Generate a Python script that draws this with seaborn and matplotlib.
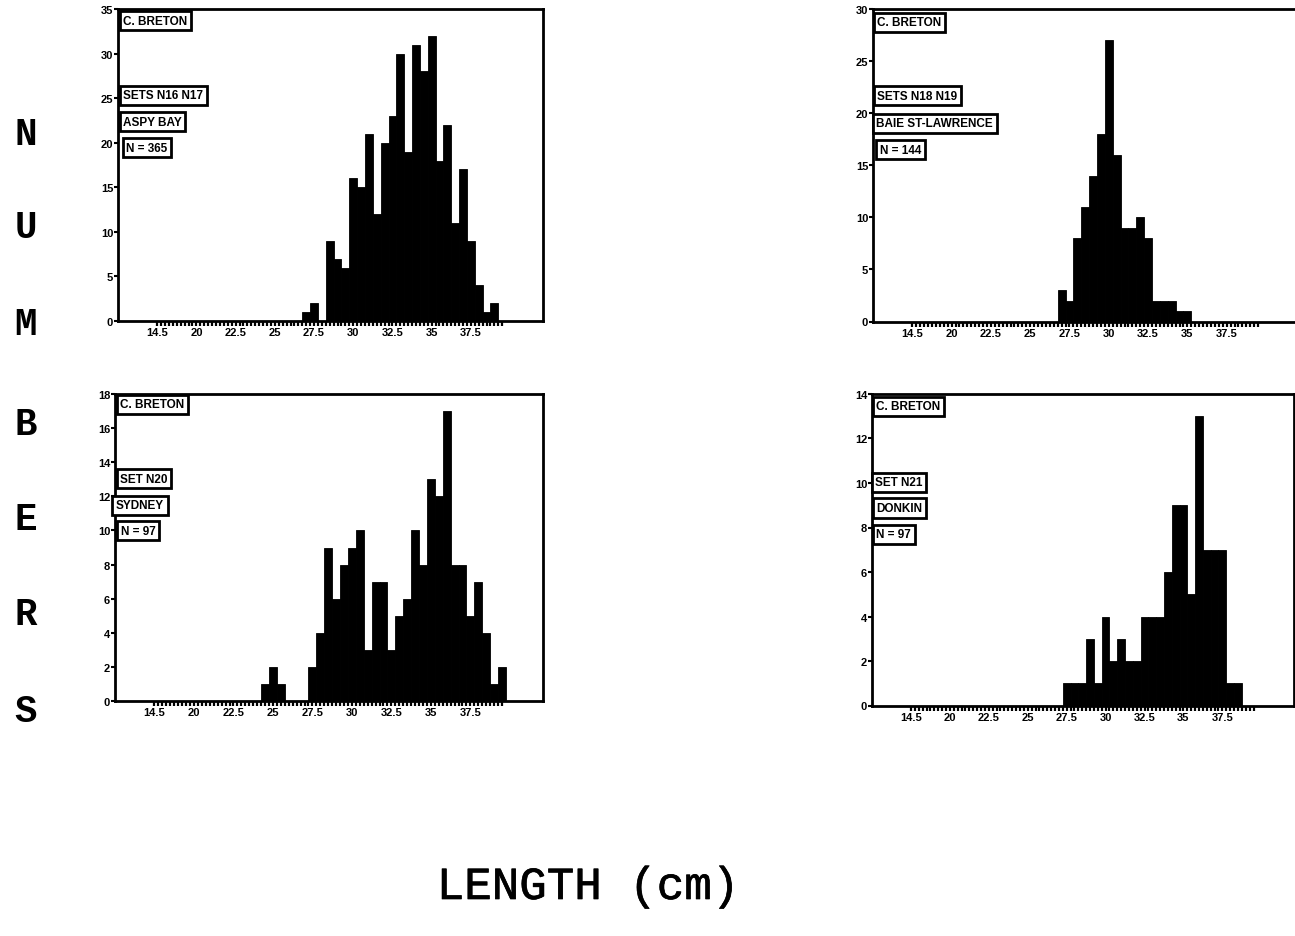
import numpy as np
import pandas as pd
import matplotlib
matplotlib.use("Agg")
import matplotlib.pyplot as plt
import matplotlib.patheffects as pe
from matplotlib.ticker import MultipleLocator, FixedLocator
import seaborn as sns

# ---------------- data ----------------
len_p1 = [27.0, 27.5, 28.0, 28.5, 29.0, 29.5, 30.0, 30.5, 31.0, 31.5, 32.0, 32.5,
          33.0, 33.5, 34.0, 34.5, 35.0, 35.5, 36.0, 36.5, 37.0, 37.5, 38.0, 38.5, 39.0]
cnt_p1 = [1, 2, 0, 9, 7, 6, 16, 15, 21, 12, 20, 23, 30, 19, 31, 28, 32, 18, 22, 11,
          17, 9, 4, 1, 2]

len_p2 = [27.0, 27.5, 28.0, 28.5, 29.0, 29.5, 30.0, 30.5, 31.0, 31.5, 32.0, 32.5,
          33.0, 33.5, 34.0, 34.5, 35.0]
cnt_p2 = [3, 2, 8, 11, 14, 18, 27, 16, 9, 9, 10, 8, 2, 2, 2, 1, 1]

len_p3 = [24.5, 25.0, 25.5, 26.0, 26.5, 27.0, 27.5, 28.0, 28.5, 29.0, 29.5, 30.0,
          30.5, 31.0, 31.5, 32.0, 32.5, 33.0, 33.5, 34.0, 34.5, 35.0, 35.5, 36.0,
          36.5, 37.0, 37.5, 38.0, 38.5, 39.0, 39.5]
cnt_p3 = [1, 2, 1, 0, 0, 0, 2, 4, 9, 6, 8, 9, 10, 3, 7, 7, 3, 5, 6, 10, 8, 13, 12,
          17, 8, 8, 5, 7, 4, 1, 2]

len_p4 = [27.5, 28.0, 28.5, 29.0, 29.5, 30.0, 30.5, 31.0, 31.5, 32.0, 32.5, 33.0,
          33.5, 34.0, 34.5, 35.0, 35.5, 36.0, 36.5, 37.0, 37.5, 38.0, 38.5]
cnt_p4 = [1, 1, 1, 3, 1, 4, 2, 3, 2, 2, 4, 4, 4, 6, 9, 9, 5, 13, 7, 7, 7, 1, 1]

xtick_pos = [17.5, 20, 22.5, 25, 27.5, 30, 32.5, 35, 37.5]
xtick_lab = ["14.5", "20", "22.5", "25", "27.5", "30", "32.5", "35", "37.5"]

labels_p1 = ["C. BRETON", "SETS N16 N17", "ASPY BAY", "N = 365"]
labels_p2 = ["C. BRETON", "SETS N18 N19", "BAIE ST-LAWRENCE", "N = 144"]
labels_p3 = ["C. BRETON", "SET N20", "SYDNEY", "N = 97"]
labels_p4 = ["C. BRETON", "SET N21", "DONKIN", "N = 97"]

ylims = [35, 30, 18, 14]
ysteps = [5, 5, 2, 2]

# ---------------- layout ----------------
W, H = 1295, 937
sns.set_style("white")
plt.rcParams["font.family"] = ["Liberation Sans", "DejaVu Sans"]

fig = plt.figure(figsize=(W / 100, H / 100), dpi=100)
fig.patch.set_facecolor("white")

def px_axes(left, top, right, bottom):
    return fig.add_axes([left / W, 1 - bottom / H, (right - left) / W, (bottom - top) / H])

axes = [
    px_axes(118, 10, 543, 322),
    px_axes(873, 10, 1299, 322.5),
    px_axes(115, 395, 543, 702),
    px_axes(872, 395, 1294, 706.5),
]

panels = [(len_p1, cnt_p1, labels_p1), (len_p2, cnt_p2, labels_p2),
          (len_p3, cnt_p3, labels_p3), (len_p4, cnt_p4, labels_p4)]

label_y = [
    [0.962, 0.723, 0.639, 0.556],
    [0.958, 0.723, 0.634, 0.549],
    [0.967, 0.724, 0.638, 0.555],
    [0.960, 0.716, 0.634, 0.549],
]
label_x = [
    [0.012, 0.012, 0.012, 0.020],
    [0.010, 0.010, 0.008, 0.016],
    [0.012, 0.012, 0.002, 0.014],
    [0.010, 0.008, 0.010, 0.010],
]

for i, (ax, (lens, cnts, labs)) in enumerate(zip(axes, panels)):
    df = pd.DataFrame({"length": lens, "count": cnts})
    sns.histplot(data=df, x="length", weights="count", binwidth=0.5,
                 binrange=(min(lens) - 0.25, max(lens) + 0.25),
                 color="black", edgecolor="black", linewidth=0.6, alpha=1.0,
                 ax=ax)
    ax.set_xlim(15.0, 42.1)
    ax.set_ylim(0, ylims[i])
    ax.set_xlabel("")
    ax.set_ylabel("")
    for sp in ax.spines.values():
        sp.set_visible(True)
        sp.set_linewidth(2.0)
        sp.set_color("black")
    ax.yaxis.set_major_locator(MultipleLocator(ysteps[i]))
    ax.set_yticklabels([f"{int(v)}" for v in ax.get_yticks()])
    ax.xaxis.set_major_locator(FixedLocator(xtick_pos))
    ax.set_xticklabels(xtick_lab)
    ax.xaxis.set_minor_locator(FixedLocator([17.5 + 0.25 * k for k in range(89)]))
    ax.tick_params(axis="x", which="both", direction="out", length=3.5, width=1.6,
                   bottom=True, pad=1, labelsize=8, colors="black")
    ax.tick_params(axis="y", which="major", direction="out", length=3, width=1.5,
                   left=True, pad=0.5, labelsize=8, colors="black")
    for t in ax.get_xticklabels() + ax.get_yticklabels():
        t.set_fontweight("bold")
    ax.set_facecolor("white")

    for j, lab in enumerate(labs):
        ax.text(label_x[i][j], label_y[i][j], lab, transform=ax.transAxes,
                ha="left", va="center", fontsize=8.5, fontweight="bold",
                color="black", zorder=5,
                bbox=dict(boxstyle="square,pad=0.3", facecolor="white",
                          edgecolor="black", linewidth=2.0))

# big vertical letters
letters = ["N", "U", "M", "B", "E", "R", "S"]
letter_y = [135, 228, 325, 425, 520, 615, 712]
for ch, yy in zip(letters, letter_y):
    fig.text(26 / W, 1 - yy / H, ch, ha="center", va="center", fontsize=27,
             fontweight="bold", family=["Liberation Mono", "DejaVu Sans Mono"],
             color="black")

fig.text(588 / W, 1 - 888 / H, "LENGTH (cm)", ha="center", va="center",
         fontsize=33, fontweight="normal",
         family=["Liberation Mono", "DejaVu Sans Mono"], color="black",
         path_effects=[pe.withStroke(linewidth=0.5, foreground="black")])

fig.savefig("out.png", dpi=100, facecolor="white")
